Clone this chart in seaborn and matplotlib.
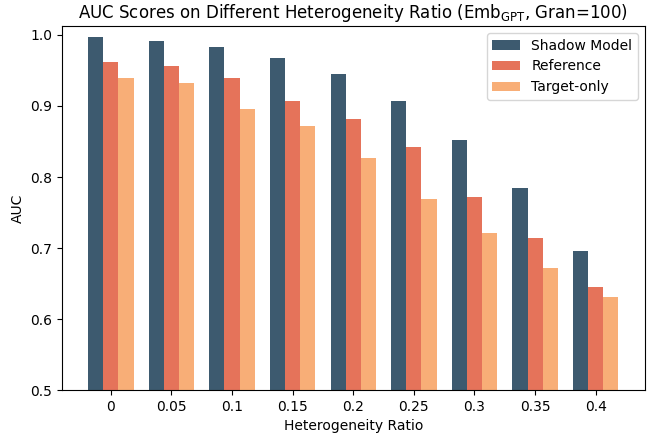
import pandas as pd
import matplotlib
matplotlib.use("Agg")
import matplotlib.pyplot as plt
import seaborn as sns

ratios = ['0', '0.05', '0.1', '0.15', '0.2', '0.25', '0.3', '0.35', '0.4']
shadow = [0.997, 0.991, 0.983, 0.968, 0.945, 0.907, 0.852, 0.785, 0.696]
reference = [0.962, 0.956, 0.939, 0.907, 0.882, 0.842, 0.772, 0.714, 0.645]
target_only = [0.939, 0.932, 0.896, 0.872, 0.827, 0.769, 0.721, 0.672, 0.631]

methods = ['Shadow Model', 'Reference', 'Target-only']
colors = ['#3d5a6f', '#e5735a', '#f8ae77']

df = pd.DataFrame({
    'ratio': ratios * 3,
    'auc': shadow + reference + target_only,
    'method': [m for m in methods for _ in ratios],
})

fig = plt.figure(figsize=(6.5, 4.34), dpi=100)
ax = fig.add_axes([0.095, 0.101, 0.897, 0.839])

sns.barplot(data=df, x='ratio', y='auc', hue='method', hue_order=methods,
            palette=colors, width=0.75, saturation=1, ax=ax)

ax.set_ylim(0.5, 1.0125)
ax.set_xlim(-0.81, 8.81)
ax.set_xlabel('Heterogeneity Ratio')
ax.set_ylabel('AUC')
ax.set_title(r'AUC Scores on Different Heterogeneity Ratio (Emb$_{\rm GPT}$, Gran=100)')
ax.legend(loc='upper right')

fig.savefig('out.png', dpi=100)
